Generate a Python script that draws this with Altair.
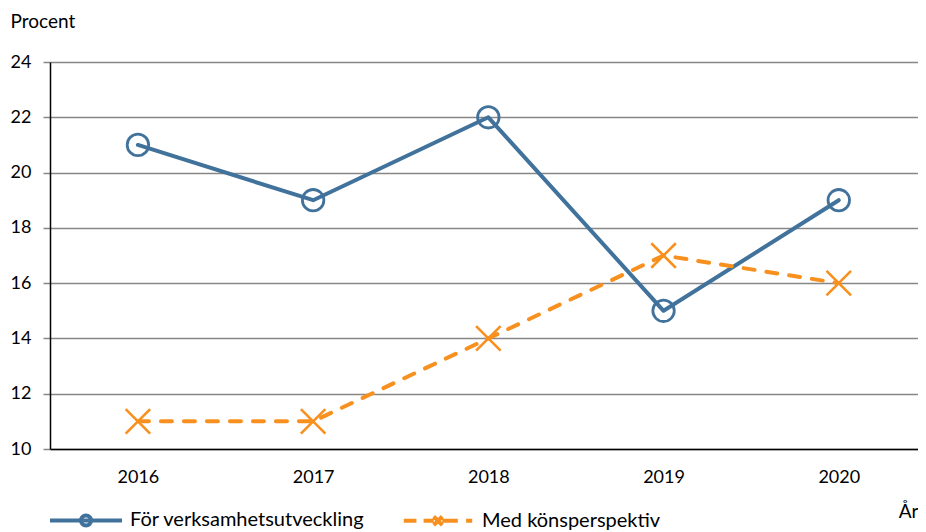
import altair as alt
import pandas as pd

years = ["2016", "2017", "2018", "2019", "2020"]
series_names = ["För verksamhetsutveckling", "Med könsperspektiv"]
verksamhet = [21, 19, 22, 15, 19]
konsperspektiv = [11, 11, 14, 17, 16]
y_ticks = [10, 12, 14, 16, 18, 20, 22, 24]

BLUE = "#41729B"
ORANGE = "#F7901E"
GRID = "#878787"
FONT = "Lato"

rows = []
for yr, v in zip(years, verksamhet):
    rows.append({"year": yr, "series": series_names[0], "value": v})
for yr, v in zip(years, konsperspektiv):
    rows.append({"year": yr, "series": series_names[1], "value": v})
df = pd.DataFrame(rows)

BLUE_SYM = "M-1,0L-0.14,0M0.14,0L1,0M-0.08,0L0.08,0M-0.14,0A0.14,0.14 0 1,0 0.14,0A0.14,0.14 0 1,0 -0.14,0"
ORANGE_SYM = ("M-0.95,0L-0.6,0M-0.4,0L-0.12,0M0.12,0L0.55,0M0.78,0L0.95,0"
              "M-0.12,-0.12L0.12,0.12M-0.12,0.12L0.12,-0.12")
sym_expr = f"datum.value == '{series_names[0]}' ? '{BLUE_SYM}' : '{ORANGE_SYM}'"

legend = alt.Legend(
    title=None,
    orient="none",
    legendX=-2,
    legendY=420,
    direction="horizontal",
    symbolType=alt.ExprRef(expr=sym_expr),
    symbolSize=5184,
    symbolStrokeWidth=4,
    symbolFillColor="transparent",
    symbolOpacity=1,
    labelFont=FONT,
    labelFontSize=20,
    labelColor="black",
    labelOffset=6,
    labelLimit=400,
    columnPadding=30,
)

color = alt.Color(
    "series:N",
    scale=alt.Scale(domain=series_names, range=[BLUE, ORANGE]),
    legend=legend,
)

x = alt.X(
    "year:O",
    scale=alt.Scale(type="point", padding=0.477, align=0.526),
    axis=alt.Axis(
        title="År",
        labelAngle=0,
        ticks=False,
        grid=False,
        domainColor="black",
        domainWidth=1.5,
        labelFont=FONT,
        labelFontSize=18,
        labelColor="black",
        labelPadding=19,
        titleFont=FONT,
        titleFontSize=19,
        titleFontWeight="normal",
        titleColor="black",
        titleX=868,
        titleY=68,
        titleAlign="right",
        titleBaseline="alphabetic",
    ),
)

y = alt.Y(
    "value:Q",
    scale=alt.Scale(domain=[10, 24], nice=False, zero=False),
    axis=alt.Axis(
        values=y_ticks,
        title="Procent",
        titleAngle=0,
        titleX=-40,
        titleY=-35,
        titleAlign="left",
        titleBaseline="alphabetic",
        titleFont=FONT,
        titleFontSize=19,
        titleFontWeight="normal",
        titleColor="black",
        tickSize=7,
        tickColor=GRID,
        tickWidth=1.5,
        gridColor=GRID,
        gridWidth=1.5,
        domainColor="black",
        domainWidth=1.5,
        labelFont=FONT,
        labelFontSize=18,
        labelColor="black",
        labelPadding=12,
    ),
)

base = alt.Chart(df)
f_blue = alt.datum.series == series_names[0]
f_orange = alt.datum.series == series_names[1]

line_blue = base.transform_filter(f_blue).mark_line(
    strokeWidth=4, strokeCap="round", strokeJoin="round"
).encode(x=x, y=y, color=color)

line_orange = base.transform_filter(f_orange).mark_line(
    strokeWidth=4, strokeCap="round", strokeJoin="round", strokeDash=[11, 12]
).encode(x=x, y=y, color=color)

pt_blue = base.transform_filter(f_blue).mark_point(
    filled=False, strokeWidth=2.8, opacity=1, shape="circle", size=460
).encode(x=x, y=y, color=color)

pt_orange = base.transform_filter(f_orange).mark_point(
    filled=False, strokeWidth=2.6, opacity=1, shape="M-1,-1L1,1M-1,1L1,-1", size=600
).encode(x=x, y=y, color=color)

chart = (
    alt.layer(line_blue, line_orange, pt_blue, pt_orange)
    .properties(
        width=868,
        height=387,
        autosize=alt.AutoSizeParams(type="none"),
        padding={"left": 42, "top": 54, "right": 0, "bottom": 83},
        background="white",
    )
    .configure_view(stroke=None)
)

chart.save("out.html", embed_options={"renderer": "svg", "actions": False})
